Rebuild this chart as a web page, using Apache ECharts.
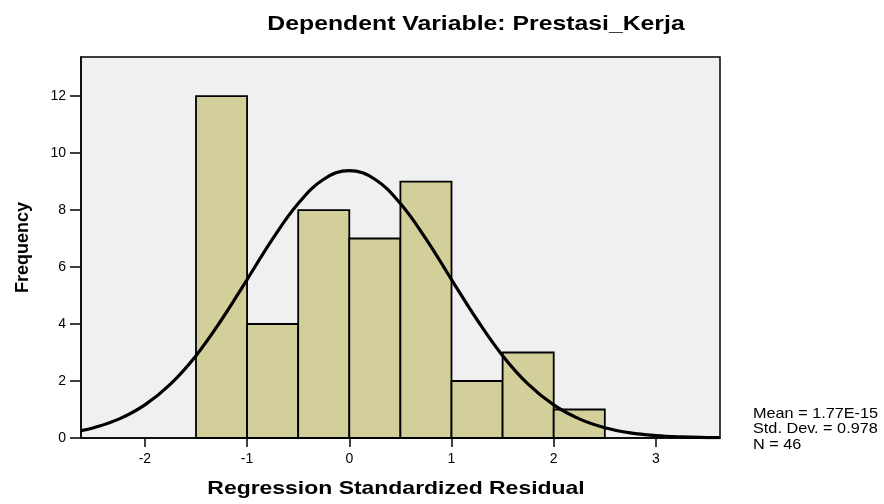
<!DOCTYPE html>
<html><head><meta charset="utf-8">
<script src="https://cdn.jsdelivr.net/npm/echarts@6/dist/echarts.min.js"></script>
<style>html,body{margin:0;padding:0;background:#fff}#c{width:884px;height:504px}</style>
</head><body><div id="c"></div>
<script>
const binStarts = [-1.5, -1.0, -0.5, 0.0, 0.5, 1.0, 1.5, 2.0];
const binWidth = 0.5;
const counts = [12, 4, 8, 7, 9, 2, 3, 1];
const curveX = [-2.625, -2.5, -2.25, -2.0, -1.75, -1.5, -1.25, -1.0, -0.75, -0.5, -0.25, 0.0, 0.25, 0.5, 0.75, 1.0, 1.25, 1.5, 1.75, 2.0, 2.25, 2.5, 2.75, 3.0, 3.25, 3.5, 3.625];
const curveY = [0.26, 0.36, 0.67, 1.16, 1.89, 2.89, 4.15, 5.56, 6.99, 8.23, 9.08, 9.38, 9.08, 8.23, 6.99, 5.56, 4.15, 2.89, 1.89, 1.16, 0.67, 0.36, 0.18, 0.085, 0.038, 0.016, 0.011];
const xTicks = [-2, -1, 0, 1, 2, 3];
const yTicks = [0, 2, 4, 6, 8, 10, 12];
const titleText = 'Dependent Variable: Prestasi_Kerja';
const xName = 'Regression Standardized Residual';
const yName = 'Frequency';
const statsLines = ['Mean = 1.77E-15', 'Std. Dev. = 0.978', 'N = 46'];

const chart = echarts.init(document.getElementById('c'));
const FONT = 'Liberation Sans, Arial, sans-serif';
chart.setOption({
  animation: false,
  backgroundColor: '#fff',
  grid: {left: 81, right: 164, top: 57, bottom: 66, show: true, backgroundColor: '#f0f0f0', borderColor: '#000', borderWidth: 1.5},
  xAxis: {
    type: 'value', min: -2.625, max: 3.627,
    splitLine: {show: false},
    axisLine: {onZero: false, lineStyle: {color: '#000', width: 1.5}},
    axisTick: {show: true, customValues: xTicks, length: 9, lineStyle: {color: '#000', width: 1.5}},
    axisLabel: {customValues: xTicks, fontFamily: FONT, fontSize: 14, color: '#000', margin: 14}
  },
  yAxis: {
    type: 'value', min: 0, max: 13.37,
    name: yName, nameLocation: 'middle', nameGap: 49,
    nameTextStyle: {fontFamily: FONT, fontWeight: 'bold', fontSize: 18, color: '#000'},
    splitLine: {show: false},
    axisLine: {show: true, onZero: false, lineStyle: {color: '#000', width: 1.5}},
    axisTick: {show: true, customValues: yTicks, length: 11, lineStyle: {color: '#000', width: 1.5}},
    axisLabel: {customValues: yTicks, fontFamily: FONT, fontSize: 14, color: '#000', margin: 15}
  },
  graphic: [{
    type: 'text', x: 476, y: 24, scaleX: 1.18,
    style: {text: titleText, textAlign: 'center', textVerticalAlign: 'middle', fontFamily: FONT, fontWeight: 'bold', fontSize: 21, fill: '#000'}
  }, {
    type: 'text', x: 396, y: 489, scaleX: 1.24,
    style: {text: xName, textAlign: 'center', textVerticalAlign: 'middle', fontFamily: FONT, fontWeight: 'bold', fontSize: 18.5, fill: '#000'}
  }, {
    type: 'text', x: 753, y: 406, scaleX: 1.12,
    style: {text: statsLines.join('\n'), textAlign: 'left', textVerticalAlign: 'top', fontFamily: FONT, fontSize: 14.5, lineHeight: 15.5, fill: '#000'}
  }],
  series: [{
    type: 'custom',
    data: binStarts.map((s, i) => [s, s + binWidth, counts[i]]),
    renderItem: function (params, api) {
      const p0 = api.coord([api.value(0), api.value(2)]);
      const p1 = api.coord([api.value(1), 0]);
      return {type: 'rect', shape: {x: p0[0], y: p0[1], width: p1[0] - p0[0], height: p1[1] - p0[1]},
        style: {fill: '#d3cf9a', stroke: '#000', lineWidth: 1.8}};
    },
    encode: {x: [0, 1], y: 2}, z: 2
  }, {
    type: 'line', data: curveX.map((x, i) => [x, curveY[i]]),
    smooth: 0.4, symbol: 'none', lineStyle: {color: '#000', width: 3.2}, z: 3
  }]
});
</script></body></html>
